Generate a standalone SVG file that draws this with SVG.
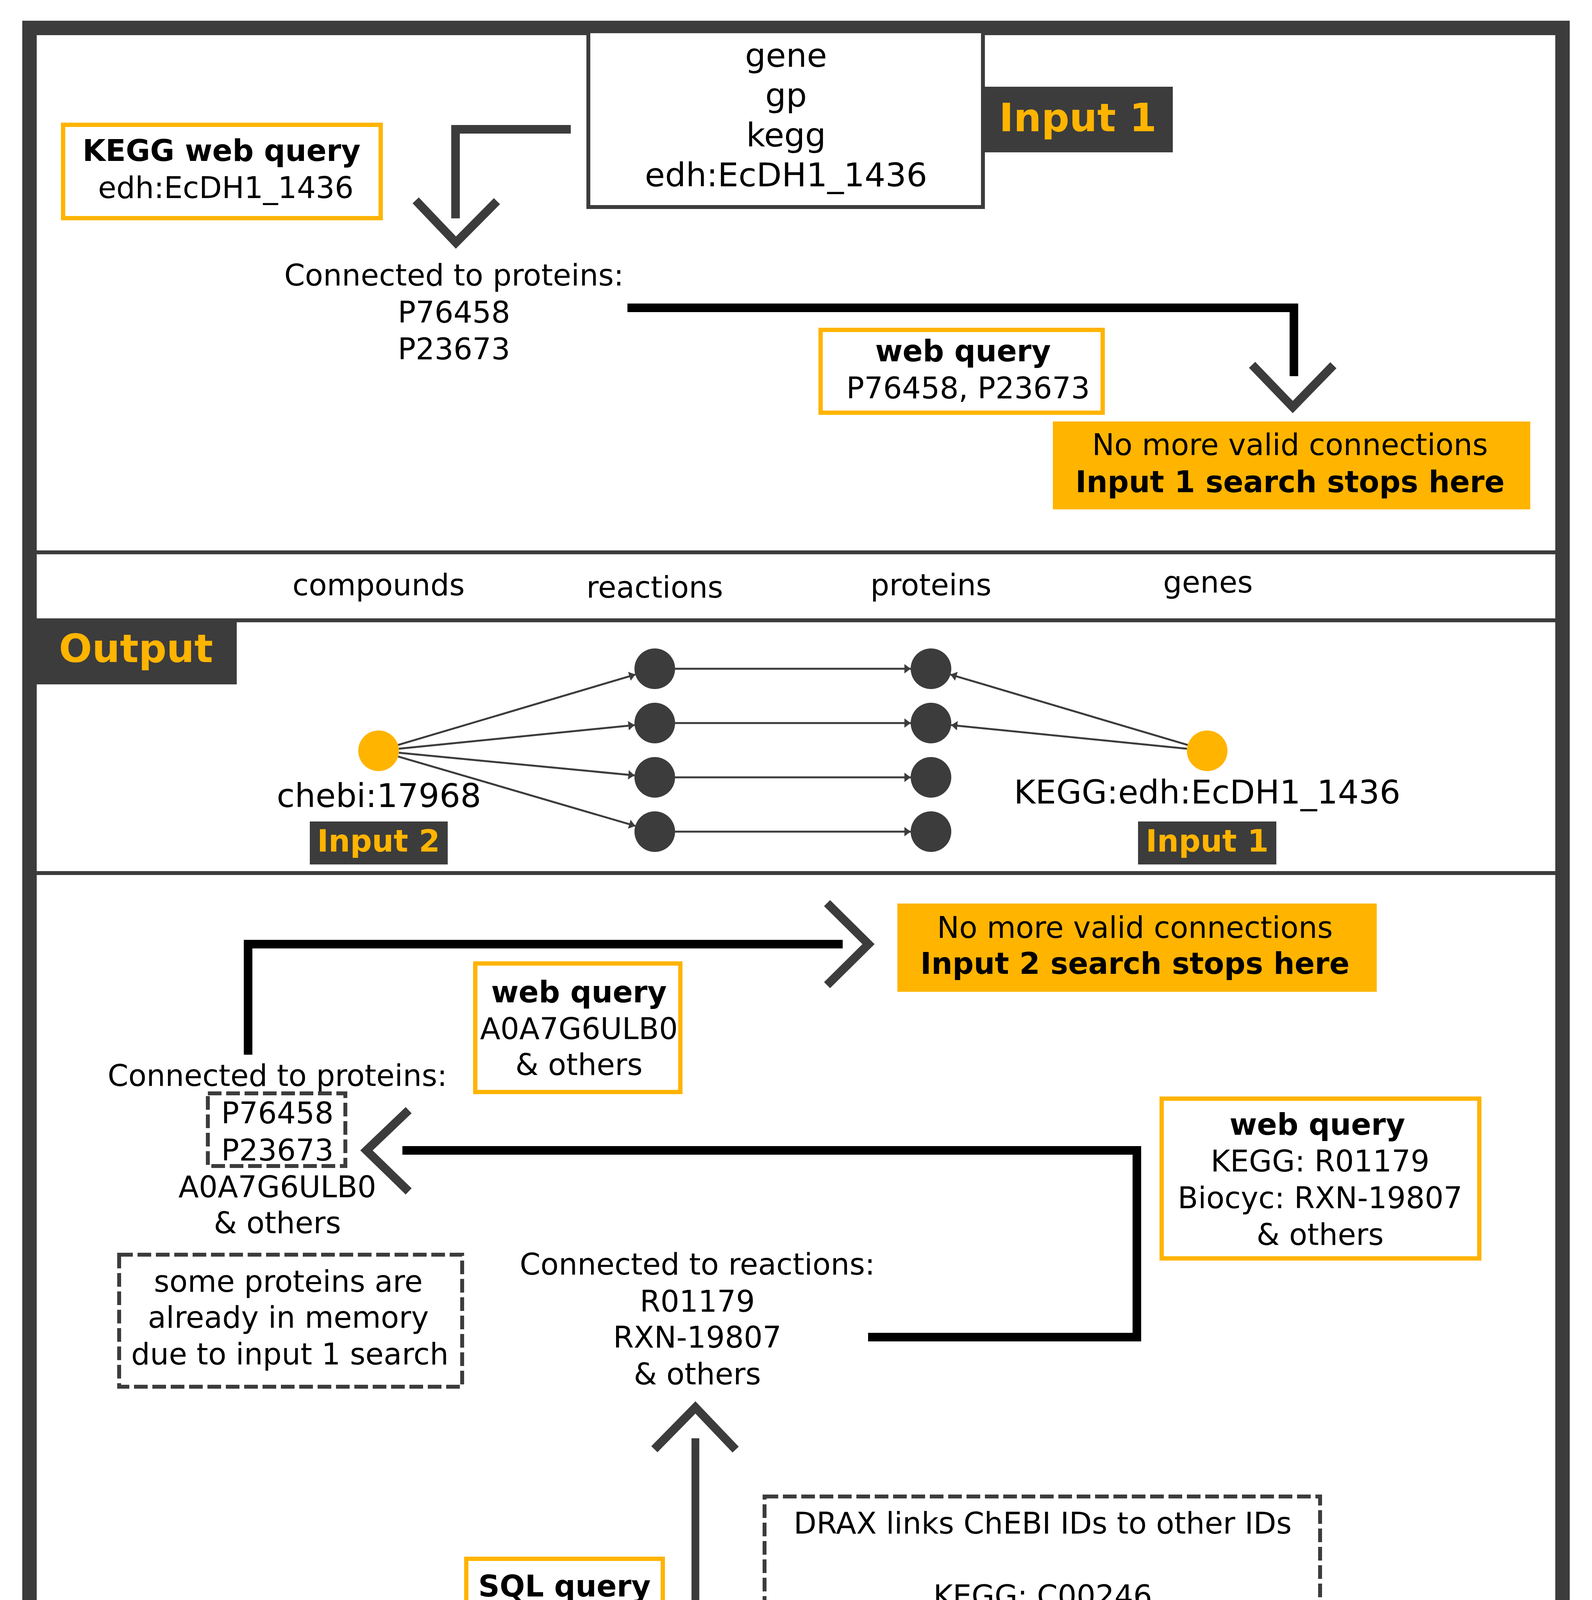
<svg xmlns="http://www.w3.org/2000/svg" width="4075" height="4996" viewBox="0 0 4075 4996">
<defs>
<style>
.t{font-family:"DejaVu Sans",Verdana,"Liberation Sans",sans-serif;font-size:76px;fill:#000;text-anchor:middle}
.b{font-weight:bold}
.big{font-size:84px}
.lab{font-weight:bold;fill:#FFB400}
.l100{font-size:100px}
.l78{font-size:78px}
.dark{fill:#3C3C3C}
.ob{fill:#fff;stroke:#FFB400;stroke-width:11}
.stop{fill:#FFB400}
.dash{fill:none;stroke:#3C3C3C;stroke-width:10;stroke-dasharray:35 12}
.box{fill:#fff;stroke:#3C3C3C;stroke-width:10}
.cg{fill:none;stroke:#3C3C3C;stroke-width:22;stroke-linejoin:miter}
.ck{fill:none;stroke:#000;stroke-width:22;stroke-linejoin:miter}
.chev{fill:none;stroke:#3C3C3C;stroke-width:22;stroke-linejoin:miter;stroke-miterlimit:10}
.edge{fill:none;stroke:#3C3C3C;stroke-width:5;marker-end:url(#ah)}
.div{stroke:#3C3C3C;stroke-width:10}
.rn{fill:#3C3C3C}
.yn{fill:#FFB400}
</style>
<marker id="ah" markerUnits="userSpaceOnUse" markerWidth="18" markerHeight="26" refX="16" refY="12" orient="auto" viewBox="0 0 18 26">
<path d="M0,0 L16,12 L0,24 z" fill="#3C3C3C"/>
</marker>
</defs>
<rect width="4075" height="4996" fill="#fff"/>

<!-- frame and dividers -->
<g id="frame">
<rect x="75.5" y="71.5" width="3924" height="4851" fill="none" stroke="#3C3C3C" stroke-width="37"/>
<line class="div" x1="94" y1="1414" x2="3982" y2="1414"/>
<line class="div" x1="94" y1="1588" x2="3982" y2="1588"/>
<line class="div" x1="94" y1="2235" x2="3982" y2="2235"/>
</g>

<!-- connectors -->
<g id="connectors">
<path class="cg" d="M1461,331 H1166 V559"/>
<path class="chev" d="M1064,513 L1167,621 L1272,515"/>
<path class="ck" d="M1606,788 H3312 V963"/>
<path class="chev" d="M3205,934 L3309,1042 L3413,935"/>
<path class="ck" d="M635,2700 V2417 H2157"/>
<path class="chev" d="M2117,2312 L2223,2417 L2117,2522"/>
<path class="ck" d="M1030,2945 H2910 V3423 H2222"/>
<path class="chev" d="M1046,2842 L938,2945 L1046,3050"/>
<path fill="none" stroke="#3C3C3C" stroke-width="20" d="M1780,4414 V3682"/>
<path class="chev" d="M1675,3710 L1780,3603 L1883,3711"/>
<!-- network edges -->
<line class="edge" x1="1018.8" y1="1907.2" x2="1626.2" y2="1726.8"/>
<line class="edge" x1="1020.7" y1="1916.8" x2="1624.3" y2="1856.2"/>
<line class="edge" x1="1020.8" y1="1927.0" x2="1624.2" y2="1985.0"/>
<line class="edge" x1="1018.9" y1="1936.6" x2="1626.1" y2="2114.4"/>
<line class="edge" x1="1728" y1="1712" x2="2331" y2="1712"/>
<line class="edge" x1="1728" y1="1851" x2="2331" y2="1851"/>
<line class="edge" x1="1728" y1="1990" x2="2331" y2="1990"/>
<line class="edge" x1="1728" y1="2129" x2="2331" y2="2129"/>
<line class="edge" x1="3040.2" y1="1907.2" x2="2432.8" y2="1726.8"/>
<line class="edge" x1="3038.3" y1="1916.8" x2="2434.7" y2="1856.2"/>
</g>

<!-- Section 1 -->
<g id="gene-box">
<rect class="box" x="1506" y="80" width="1010" height="450"/>
<text class="t big" x="2012" y="171">gene</text>
<text class="t big" x="2012" y="273">gp</text>
<text class="t big" x="2012" y="375">kegg</text>
<text class="t big" x="2012" y="477">edh:EcDH1_1436</text>
</g>
<g id="input1-label">
<rect class="dark" x="2516" y="222" width="486" height="168"/>
<text class="t lab l100" x="2759" y="336">Input 1</text>
</g>
<g id="kegg-web-query">
<rect class="ob" x="161.5" y="319.5" width="813" height="239"/>
<text class="t b" x="567" y="412">KEGG web query</text>
<text class="t" x="578" y="507">edh:EcDH1_1436</text>
</g>
<g id="connected-proteins-1">
<text class="t" x="1162" y="731">Connected to proteins:</text>
<text class="t" x="1162" y="826">P76458</text>
<text class="t" x="1162" y="920">P23673</text>
</g>
<g id="web-query-1">
<rect class="ob" x="2100.5" y="844.5" width="722" height="212"/>
<text class="t b" x="2465" y="925">web query</text>
<text class="t" x="2478" y="1020">P76458, P23673</text>
</g>
<g id="stop-1">
<rect class="stop" x="2695" y="1079" width="1222" height="225"/>
<text class="t" x="3302" y="1165">No more valid connections</text>
<text class="t b" x="3302" y="1260">Input 1 search stops here</text>
</g>

<!-- Section 2 headers -->
<g id="headers">
<text class="t" x="969" y="1524">compounds</text>
<text class="t" x="1676" y="1530">reactions</text>
<text class="t" x="2383" y="1524">proteins</text>
<text class="t" x="3092" y="1517">genes</text>
</g>

<!-- Output network -->
<g id="output-label">
<rect class="dark" x="94" y="1593" width="512" height="159"/>
<text class="t lab l100" x="348" y="1695">Output</text>
</g>
<g id="compound-node">
<circle class="yn" cx="969" cy="1922" r="52"/>
<text class="t big" x="970" y="2066">chebi:17968</text>
</g>
<g id="input2-small">
<rect class="dark" x="793" y="2103" width="353" height="110"/>
<text class="t lab l78" x="969" y="2180">Input 2</text>
</g>
<g id="reaction-nodes">
<circle class="rn" cx="1676" cy="1712" r="52"/>
<circle class="rn" cx="1676" cy="1851" r="52"/>
<circle class="rn" cx="1676" cy="1990" r="52"/>
<circle class="rn" cx="1676" cy="2129" r="52"/>
</g>
<g id="protein-nodes">
<circle class="rn" cx="2383" cy="1712" r="52"/>
<circle class="rn" cx="2383" cy="1851" r="52"/>
<circle class="rn" cx="2383" cy="1990" r="52"/>
<circle class="rn" cx="2383" cy="2129" r="52"/>
</g>
<g id="gene-node">
<circle class="yn" cx="3090" cy="1922" r="52"/>
<text class="t big" x="3090" y="2057">KEGG:edh:EcDH1_1436</text>
</g>
<g id="input1-small">
<rect class="dark" x="2913" y="2103" width="354" height="110"/>
<text class="t lab l78" x="3090" y="2180">Input 1</text>
</g>

<!-- Section 3 -->
<g id="stop-2">
<rect class="stop" x="2297" y="2313" width="1227" height="226"/>
<text class="t" x="2905" y="2401">No more valid connections</text>
<text class="t b" x="2905" y="2493">Input 2 search stops here</text>
</g>
<g id="web-query-2">
<rect class="ob" x="1216.5" y="2466.5" width="525" height="329"/>
<text class="t b" x="1482" y="2566">web query</text>
<text class="t" x="1482" y="2660">A0A7G6ULB0</text>
<text class="t" x="1482" y="2752">&amp; others</text>
</g>
<g id="connected-proteins-2">
<text class="t" x="710" y="2780">Connected to proteins:</text>
<rect class="dash" x="532" y="2799" width="352" height="186"/>
<text class="t" x="710" y="2876">P76458</text>
<text class="t" x="710" y="2971">P23673</text>
<text class="t" x="710" y="3065">A0A7G6ULB0</text>
<text class="t" x="710" y="3157">&amp; others</text>
</g>
<g id="web-query-3">
<rect class="ob" x="2973.5" y="2812.5" width="813" height="409"/>
<text class="t b" x="3372" y="2905">web query</text>
<text class="t" x="3379" y="2999">KEGG: R01179</text>
<text class="t" x="3379" y="3093">Biocyc: RXN-19807</text>
<text class="t" x="3379" y="3187">&amp; others</text>
</g>
<g id="memory-note">
<rect class="dash" x="305" y="3212" width="878" height="338"/>
<text class="t" x="738" y="3307">some proteins are</text>
<text class="t" x="738" y="3399">already in memory</text>
<text class="t" x="742" y="3493">due to input 1 search</text>
</g>
<g id="connected-reactions">
<text class="t" x="1785" y="3263">Connected to reactions:</text>
<text class="t" x="1785" y="3358">R01179</text>
<text class="t" x="1785" y="3450">RXN-19807</text>
<text class="t" x="1785" y="3544">&amp; others</text>
</g>

<!-- Section 4 -->
<g id="sql-query">
<rect class="ob" x="1193.5" y="3990.5" width="503" height="155"/>
<text class="t b" x="1445" y="4087">SQL query</text>
</g>
<g id="drax-note">
<rect class="dash" x="1957" y="3831" width="1422" height="509"/>
<text class="t" x="2669" y="3926">DRAX links ChEBI IDs to other IDs</text>
<text class="t" x="2669" y="4112">KEGG: C00246</text>
<text class="t" x="2669" y="4206">Biocyc: BUTYRIC_ACID</text>
<text class="t" x="2669" y="4301">HMDB: HMDB00039</text>
</g>
<g id="compound-box">
<rect class="box" x="1278" y="4471" width="1004" height="450"/>
<text class="t big" x="1780" y="4555">compound</text>
<text class="t big" x="1780" y="4656">crp</text>
<text class="t big" x="1780" y="4758">chebi</text>
<text class="t big" x="1780" y="4859">17968</text>
</g>
<g id="input2-label">
<rect class="dark" x="782" y="4612" width="496" height="169"/>
<text class="t lab l100" x="1026" y="4726">Input 2</text>
</g>
<rect x="57" y="4904" width="3961" height="37" fill="#3C3C3C"/>
</svg>
